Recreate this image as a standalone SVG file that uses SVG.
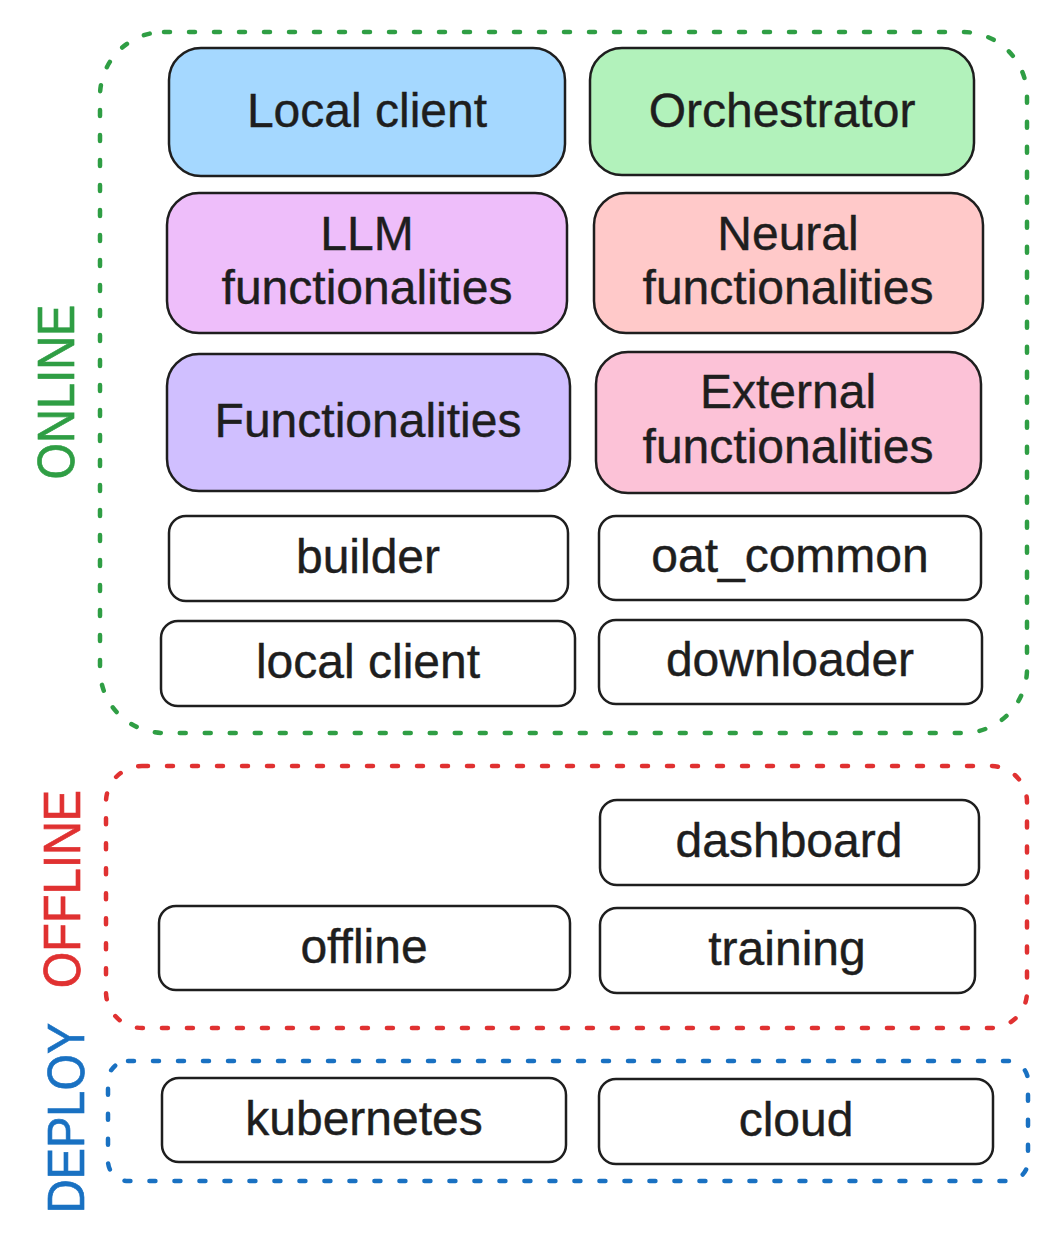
<svg xmlns="http://www.w3.org/2000/svg" width="1059" height="1247" viewBox="0 0 1059 1247">
  <style>
    .box { stroke: #1e1e1e; stroke-width: 2.5; }
    .t { font-family: "Liberation Sans", Arial, Helvetica, sans-serif; font-size: 48px; fill: #1e1e1e; text-anchor: middle; stroke: #1e1e1e; stroke-width: 0.4; }
    .grp { fill: none; stroke-width: 4.5; stroke-linecap: round; stroke-dasharray: 6 19; }
    .lbl { font-family: "Liberation Sans", Arial, Helvetica, sans-serif; font-size: 47px; text-anchor: middle; dominant-baseline: central; }
  </style>
  <rect width="1059" height="1247" fill="#ffffff"/>

  <g id="groups">
    <g id="online-group">
      <rect class="grp" x="100" y="32" width="927" height="701" rx="64" stroke="#2f9e44"/>
      <text class="lbl" transform="translate(56 392) rotate(-90) scale(1 1.12)" fill="#2f9e44" stroke="#2f9e44" stroke-width="0.6">ONLINE</text>
    </g>
    <g id="offline-group">
      <rect class="grp" x="106" y="766" width="921" height="262" rx="36" stroke="#e03131"/>
      <text class="lbl" transform="translate(62 889) rotate(-90) scale(1 1.12)" fill="#e03131" stroke="#e03131" stroke-width="0.6">OFFLINE</text>
    </g>
    <g id="deploy-group">
      <rect class="grp" x="108" y="1061" width="920" height="120" rx="20" stroke="#1971c2"/>
      <text class="lbl" transform="translate(66 1118) rotate(-90) scale(1 1.12)" fill="#1971c2" stroke="#1971c2" stroke-width="0.6">DEPLOY</text>
    </g>
  </g>

  <g id="connectors"></g>

  <g id="local-client-top">
    <rect class="box" x="169" y="48" width="396" height="128" rx="32" fill="#a5d8ff"/>
    <text class="t" x="367" y="127">Local client</text>
  </g>
  <g id="orchestrator">
    <rect class="box" x="590" y="48" width="384" height="127" rx="32" fill="#b2f2bb"/>
    <text class="t" x="782" y="127">Orchestrator</text>
  </g>
  <g id="llm-functionalities">
    <rect class="box" x="167" y="193" width="400" height="140" rx="32" fill="#eebefa"/>
    <text class="t" x="367" y="250">LLM</text>
    <text class="t" x="367" y="304">functionalities</text>
  </g>
  <g id="neural-functionalities">
    <rect class="box" x="594" y="193" width="389" height="140" rx="32" fill="#ffc9c9"/>
    <text class="t" x="788" y="250">Neural</text>
    <text class="t" x="788" y="304">functionalities</text>
  </g>
  <g id="functionalities">
    <rect class="box" x="167" y="354" width="403" height="137" rx="32" fill="#d0bfff"/>
    <text class="t" x="368" y="437">Functionalities</text>
  </g>
  <g id="external-functionalities">
    <rect class="box" x="596" y="352" width="385" height="141" rx="32" fill="#fcc2d7"/>
    <text class="t" x="788" y="408">External</text>
    <text class="t" x="788" y="463">functionalities</text>
  </g>
  <g id="builder">
    <rect class="box" x="169" y="516" width="399" height="85" rx="17" fill="#ffffff"/>
    <text class="t" x="368" y="573">builder</text>
  </g>
  <g id="oat-common">
    <rect class="box" x="599" y="516" width="382" height="84" rx="17" fill="#ffffff"/>
    <text class="t" x="790" y="572">oat_common</text>
  </g>
  <g id="local-client">
    <rect class="box" x="161" y="621" width="414" height="85" rx="17" fill="#ffffff"/>
    <text class="t" x="368" y="678">local client</text>
  </g>
  <g id="downloader">
    <rect class="box" x="599" y="620" width="383" height="84" rx="17" fill="#ffffff"/>
    <text class="t" x="790" y="676">downloader</text>
  </g>
  <g id="dashboard">
    <rect class="box" x="600" y="800" width="379" height="85" rx="17" fill="#ffffff"/>
    <text class="t" x="789" y="857">dashboard</text>
  </g>
  <g id="offline">
    <rect class="box" x="159" y="906" width="411" height="84" rx="17" fill="#ffffff"/>
    <text class="t" x="364" y="963">offline</text>
  </g>
  <g id="training">
    <rect class="box" x="600" y="908" width="375" height="85" rx="17" fill="#ffffff"/>
    <text class="t" x="787" y="965">training</text>
  </g>
  <g id="kubernetes">
    <rect class="box" x="162" y="1078" width="404" height="84" rx="17" fill="#ffffff"/>
    <text class="t" x="364" y="1135">kubernetes</text>
  </g>
  <g id="cloud">
    <rect class="box" x="599" y="1079" width="394" height="85" rx="17" fill="#ffffff"/>
    <text class="t" x="796" y="1136">cloud</text>
  </g>
</svg>
